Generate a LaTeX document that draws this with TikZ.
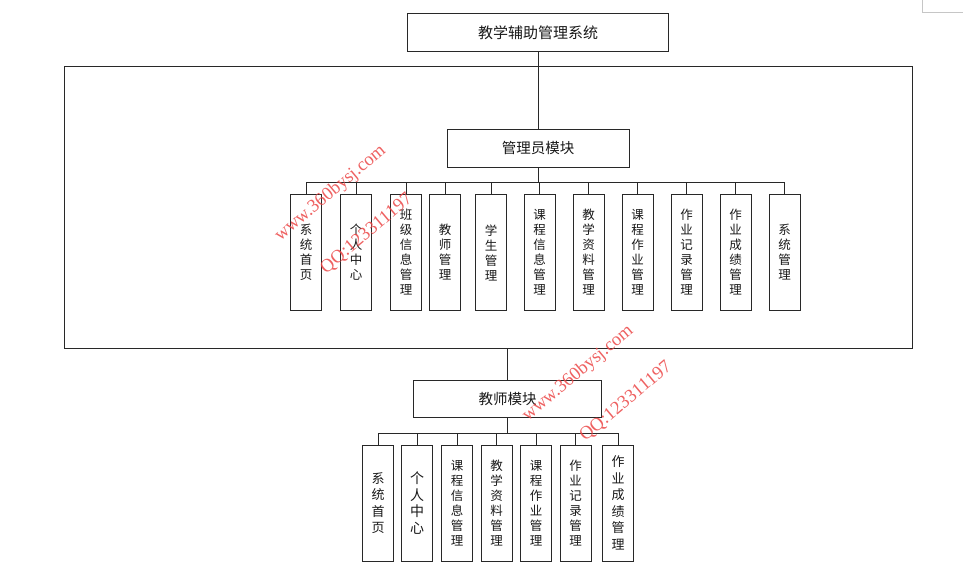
\documentclass[tikz,border=0pt]{standalone}
\usepackage{fontspec}
\setmainfont{Liberation Serif}
\newfontfamily\cjk{Noto Sans CJK SC}
\newfontfamily\wmfont{Liberation Serif}
\definecolor{edge}{RGB}{40,40,40}
\definecolor{wm}{RGB}{236,70,70}
\tikzset{
  box/.style={draw=edge, line width=1pt, fill=white, inner sep=0pt, align=center, text=black!90},
  titlebox/.style={box, font=\cjk\fontsize{15}{18}\selectfont},
  modbox/.style={box, font=\cjk\fontsize{14.5}{17}\selectfont},
  leaf/.style={box, minimum width=31pt, minimum height=116pt, font=\cjk\fontsize{12.5}{15}\selectfont},
  leafb/.style={leaf, font=\cjk\fontsize{13}{16.5}\selectfont},
  wire/.style={draw=edge, line width=1pt},
  wmark/.style={rotate=40, text=wm, opacity=0.85, font=\wmfont\fontsize{18.5}{20}\selectfont}
}
\begin{document}
\begin{tikzpicture}[x=1pt,y=-1pt]
\useasboundingbox (0,0) rectangle (966,587);
\fill[white] (0,0) rectangle (966,587);
% corner mark
\draw[gray!45, line width=0.8pt] (922,0) -- (922,12) -- (963,12);
% frame
\node[draw=edge, line width=1pt, minimum width=848pt, minimum height=282pt, inner sep=0pt] (frame) at (488,207) {};
% title
\node[titlebox, minimum width=261pt, minimum height=38pt] (top) at (538,32.5) {教学辅助管理系统};
% admin module
\node[modbox, minimum width=182pt, minimum height=38pt] (admin) at (538,148) {管理员模块};
\draw[wire] (top) -- (admin);
% admin leaves
\node[leaf] (a1) at (306,252.5) {系\\统\\首\\页};
\node[leaf] (a2) at (356,252.5) {个\\人\\中\\心};
\node[leaf] (a3) at (406,252.5) {班\\级\\信\\息\\管\\理};
\node[leaf] (a4) at (445,252.5) {教\\师\\管\\理};
\node[leaf] (a5) at (491,252.5) {学\\生\\管\\理};
\node[leaf] (a6) at (539.5,252.5) {课\\程\\信\\息\\管\\理};
\node[leaf] (a7) at (588.5,252.5) {教\\学\\资\\料\\管\\理};
\node[leaf] (a8) at (637.5,252.5) {课\\程\\作\\业\\管\\理};
\node[leaf] (a9) at (686.5,252.5) {作\\业\\记\\录\\管\\理};
\node[leaf] (a10) at (735.5,252.5) {作\\业\\成\\绩\\管\\理};
\node[leaf] (a11) at (784.5,252.5) {系\\统\\管\\理};
\coordinate (abus) at (538,182);
\draw[wire] (admin.south) -- (abus);
\draw[wire] (a1.north |- abus) -- (a11.north |- abus);
\foreach \n in {a1,a2,a3,a4,a5,a6,a7,a8,a9,a10,a11}
  \draw[wire] (\n.north) -- (\n.north |- abus);
% teacher module
\node[modbox, minimum width=188pt, minimum height=37.5pt] (teacher) at (507.7,398.8) {教师模块};
\draw[wire] (frame.south -| teacher) -- (teacher.north);
% teacher leaves
\node[leafb] (t1) at (378,503) {系\\统\\首\\页};
\node[leafb, font=\cjk\fontsize{14}{16.5}\selectfont] (t2) at (417,503) {个\\人\\中\\心};
\node[leaf] (t3) at (457,503) {课\\程\\信\\息\\管\\理};
\node[leaf] (t4) at (496.5,503) {教\\学\\资\\料\\管\\理};
\node[leaf] (t5) at (536,503) {课\\程\\作\\业\\管\\理};
\node[leaf] (t6) at (575.5,503) {作\\业\\记\\录\\管\\理};
\node[leafb] (t7) at (618,503) {作\\业\\成\\绩\\管\\理};
\coordinate (tbus) at (507.7,433);
\draw[wire] (teacher.south) -- (tbus);
\draw[wire] (t1.north |- tbus) -- (t7.north |- tbus);
\foreach \n in {t1,t2,t3,t4,t5,t6,t7}
  \draw[wire] (\n.north) -- (\n.north |- tbus);
% watermarks
\node[wmark] (w1) at (330.5,193.5) {www.360bysj.com};
\node[wmark] (q1) at (366.7,234) {QQ:123311197};
\node[wmark] (w2) at (578,373.5) {www.360bysj.com};
\node[wmark] (q2) at (626,401.5) {QQ:123311197};
\end{tikzpicture}
\end{document}
